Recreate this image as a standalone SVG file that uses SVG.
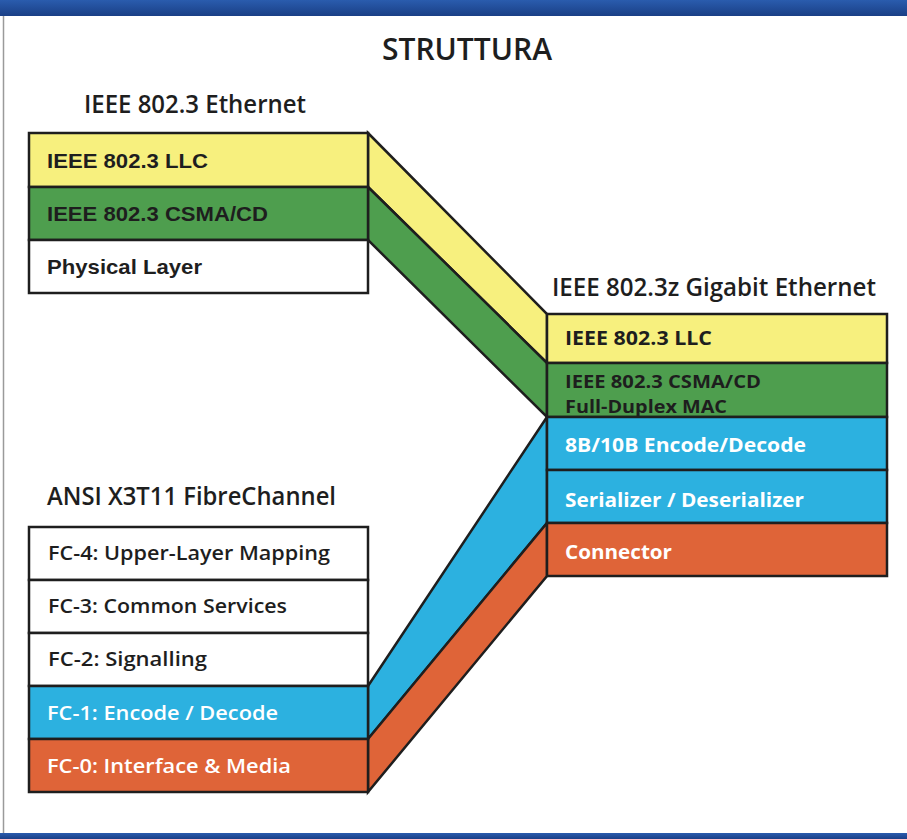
<svg xmlns="http://www.w3.org/2000/svg" width="907" height="839" viewBox="0 0 907 839">
<defs>
<linearGradient id="bar" x1="0" y1="0" x2="0" y2="1">
<stop offset="0" stop-color="#2a5cae"/>
<stop offset="1" stop-color="#1a3f86"/>
</linearGradient>
</defs>
<style>
.box{stroke:#1e1e1e;stroke-width:2.5;stroke-linejoin:miter}
.band{stroke:#1e1e1e;stroke-width:2.5;stroke-linejoin:miter}
.y{fill:#f7f07e}.g{fill:#4e9e4e}.b{fill:#2cb1e0}.r{fill:#df6438}.w{fill:#ffffff}
.t{font-family:"Open Sans","Noto Sans",sans-serif;fill:#1e1e1e;font-size:25px;font-weight:600}
.ttl{font-family:"Open Sans","Noto Sans",sans-serif;fill:#1e1e1e;font-size:31px;font-weight:600}
.h{font-family:"Liberation Sans",Arial,sans-serif;font-weight:700;font-size:21px;fill:#1e1e1e}
.lbl{font-family:"Open Sans","Noto Sans",sans-serif;font-size:20px;font-weight:700}
.sm{font-size:18px}
.fc{font-family:"Open Sans","Noto Sans",sans-serif;font-size:20px;font-weight:600}
.dk{fill:#1e1e1e}.wt{fill:#ffffff}
</style>
<rect x="0" y="0" width="907" height="839" fill="#ffffff"/>
<rect x="0" y="0" width="907" height="16" fill="url(#bar)"/>
<rect x="0" y="833" width="907" height="6" fill="url(#bar)"/>
<line x1="3.5" y1="16" x2="3.5" y2="833" stroke="#9a9a9a" stroke-width="1.5"/>

<text class="ttl" x="382" y="60" textLength="170" lengthAdjust="spacingAndGlyphs">STRUTTURA</text>
<text class="t" x="84" y="113" textLength="222" lengthAdjust="spacingAndGlyphs">IEEE 802.3 Ethernet</text>
<text class="t" x="552" y="296" textLength="324" lengthAdjust="spacingAndGlyphs">IEEE 802.3z Gigabit Ethernet</text>
<text class="t" x="47" y="505" textLength="289" lengthAdjust="spacingAndGlyphs">ANSI X3T11 FibreChannel</text>

<g id="connectors">
<polygon class="band y" points="368,133 547,314 547,363 368,187"/>
<polygon class="band g" points="368,187 547,363 547,417 368,240"/>
<polygon class="band b" points="368,686 547,417 547,523 368,739"/>
<polygon class="band r" points="368,739 547,523 547,576 368,792"/>
</g>

<g id="eth-llc"><rect class="box y" x="29" y="133" width="339" height="54"/><text class="h" x="47" y="168" textLength="161" lengthAdjust="spacingAndGlyphs">IEEE 802.3 LLC</text></g>
<g id="eth-csma"><rect class="box g" x="29" y="187" width="339" height="53"/><text class="h" x="47" y="221" textLength="221" lengthAdjust="spacingAndGlyphs">IEEE 802.3 CSMA/CD</text></g>
<g id="eth-phy"><rect class="box w" x="29" y="240" width="339" height="53"/><text class="h" x="47" y="274" textLength="155" lengthAdjust="spacingAndGlyphs">Physical Layer</text></g>

<g id="gbe-llc"><rect class="box y" x="547" y="314" width="340" height="49"/><text class="lbl dk" x="565" y="345" textLength="147" lengthAdjust="spacingAndGlyphs">IEEE 802.3 LLC</text></g>
<g id="gbe-mac"><rect class="box g" x="547" y="363" width="340" height="54"/><text class="lbl sm dk" x="565" y="388" textLength="196" lengthAdjust="spacingAndGlyphs">IEEE 802.3 CSMA/CD</text><text class="lbl sm dk" x="565" y="413" textLength="162" lengthAdjust="spacingAndGlyphs">Full-Duplex MAC</text></g>
<g id="gbe-8b10b"><rect class="box b" x="547" y="417" width="340" height="53"/><text class="lbl wt" x="565" y="452" textLength="241" lengthAdjust="spacingAndGlyphs">8B/10B Encode/Decode</text></g>
<g id="gbe-serdes"><rect class="box b" x="547" y="470" width="340" height="53"/><text class="lbl wt" x="565" y="507" textLength="239" lengthAdjust="spacingAndGlyphs">Serializer / Deserializer</text></g>
<g id="gbe-conn"><rect class="box r" x="547" y="523" width="340" height="53"/><text class="lbl wt" x="565" y="559" textLength="107" lengthAdjust="spacingAndGlyphs">Connector</text></g>

<g id="fc4"><rect class="box w" x="29" y="527" width="339" height="53"/><text class="fc dk" x="48" y="560" textLength="282" lengthAdjust="spacingAndGlyphs">FC-4: Upper-Layer Mapping</text></g>
<g id="fc3"><rect class="box w" x="29" y="580" width="339" height="53"/><text class="fc dk" x="48" y="613" textLength="239" lengthAdjust="spacingAndGlyphs">FC-3: Common Services</text></g>
<g id="fc2"><rect class="box w" x="29" y="633" width="339" height="53"/><text class="fc dk" x="48" y="666" textLength="159" lengthAdjust="spacingAndGlyphs">FC-2: Signalling</text></g>
<g id="fc1"><rect class="box b" x="29" y="686" width="339" height="53"/><text class="fc wt" x="47" y="720" textLength="231" lengthAdjust="spacingAndGlyphs">FC-1: Encode / Decode</text></g>
<g id="fc0"><rect class="box r" x="29" y="739" width="339" height="53"/><text class="fc wt" x="47" y="773" textLength="244" lengthAdjust="spacingAndGlyphs">FC-0: Interface &amp; Media</text></g>
</svg>
